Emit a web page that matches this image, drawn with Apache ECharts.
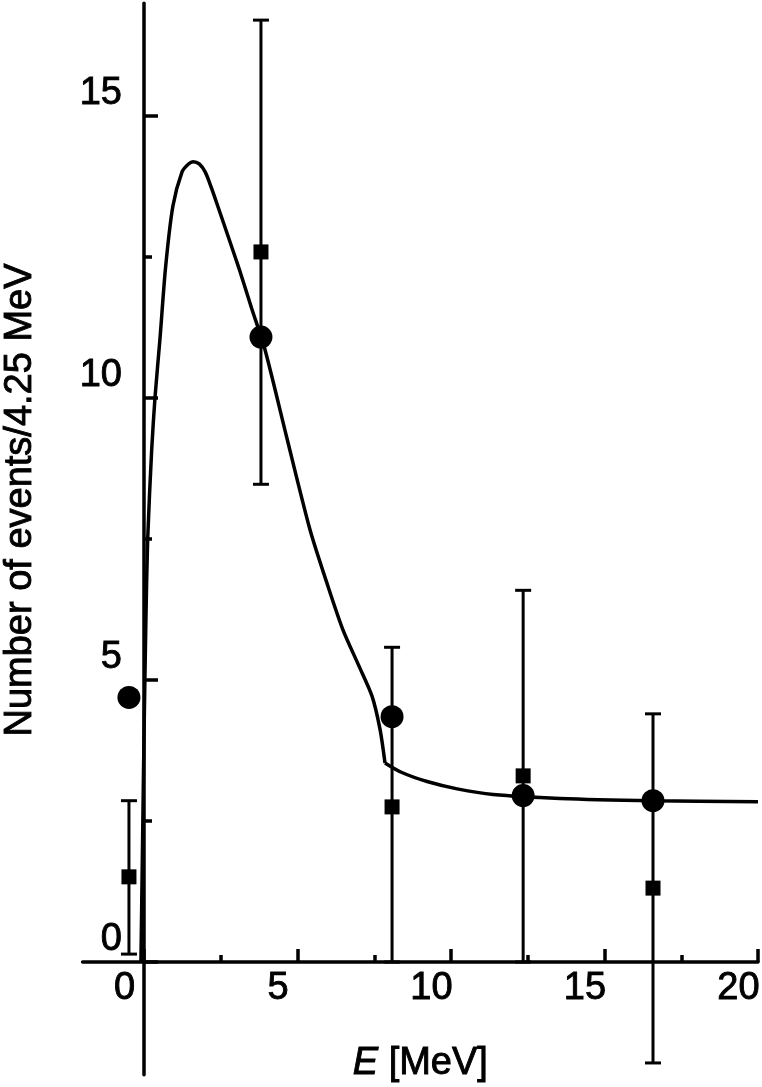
<!DOCTYPE html>
<html>
<head>
<meta charset="utf-8">
<script src="https://cdn.jsdelivr.net/npm/echarts@6/dist/echarts.min.js"></script>
<style>
  html, body { margin: 0; padding: 0; background: #fff; }
  #chart { width: 762px; height: 1087px; }
</style>
</head>
<body>
<div id="chart"></div>
<script>
// bin centres (MeV)
const binX = [-0.49, 3.81, 8.08, 12.35, 16.58];
// filled circles
const circleY = [4.69, 11.08, 4.35, 2.95, 2.86];
// filled squares with their error bars
const squareY = [1.51, 12.59, 2.75, 3.3, 1.31];
const errLow = [0.14, 8.47, 0, 0, -1.79];
const errHigh = [2.86, 16.7, 5.58, 6.59, 4.4];

// fitted curve, rising part up to the kink
const curveX1 = [-0.1, -0.05, 0.0, 0.06, 0.12, 0.25, 0.36, 0.52, 0.7, 0.94, 1.24, 1.45, 1.6, 1.8, 2.0, 2.2, 2.41, 2.75, 3.13, 3.5, 3.94, 4.65, 5.41, 6.0, 6.48, 7.0, 7.43, 7.69, 7.85];
const curveY1 = [0, 2.0, 4.0, 6.0, 7.5, 9.08, 10.02, 11.05, 12.3, 13.4, 14.01, 14.15, 14.19, 14.15, 14.0, 13.72, 13.39, 12.85, 12.24, 11.6, 10.86, 9.3, 7.66, 6.65, 5.89, 5.25, 4.71, 4.12, 3.53];
// tail after the kink
const curveX2 = [7.85, 8.4, 9.22, 10.2, 11.37, 13.55, 16.58, 20];
const curveY2 = [3.53, 3.36, 3.2, 3.07, 2.97, 2.9, 2.86, 2.84];

const xLabels = [0, 5, 10, 15, 20];
const yLabels = [0, 5, 10, 15];

const FONT = 'Liberation Sans, Arial, sans-serif';
// a thin outline makes the glyphs as heavy as in the scanned figure
const HEAVY = { textBorderColor: '#000', textBorderWidth: 0.9 };

const chart = echarts.init(document.getElementById('chart'));

const zip = (xs, ys) => xs.map((x, i) => [x, ys[i]]);

const option = {
  animation: false,
  backgroundColor: '#fff',
  grid: { left: 82.6, right: 4, top: 3.2, bottom: 12.2, containLabel: false, outerBoundsMode: 'none' },
  xAxis: {
    type: 'value',
    min: -2,
    max: 20,
    splitLine: { show: false },
    axisLine: { onZero: true, lineStyle: { color: '#000', width: 3.5 } },
    axisTick: { inside: true, length: 13, customValues: xLabels, lineStyle: { color: '#000', width: 3.5 } },
    minorTick: { show: true, splitNumber: 2, length: 7, lineStyle: { color: '#000', width: 3.5 } },
    axisLabel: {
      customValues: xLabels,
      color: '#000', fontSize: 38, fontFamily: FONT, margin: -105,
      // label sits a little left of its tick, as in the picture
      formatter: v => '{v|' + v + '}{s| }',
      rich: {
        v: Object.assign({ color: '#000', fontSize: 38, fontFamily: FONT }, HEAVY),
        s: { width: 39, fontSize: 38 }
      }
    },
    name: '{it|E} [MeV]',
    nameLocation: 'middle',
    nameGap: -30,
    nameTextStyle: Object.assign({
      color: '#000', fontSize: 38, fontFamily: FONT,
      rich: { it: Object.assign({ fontStyle: 'italic', fontSize: 38, fontFamily: FONT, color: '#000' }, HEAVY) }
    }, HEAVY)
  },
  yAxis: {
    type: 'value',
    min: -2,
    max: 17,
    splitNumber: 4,
    splitLine: { show: false },
    axisLine: { onZero: true, lineStyle: { color: '#000', width: 3.5 } },
    axisTick: { inside: true, length: 14, customValues: yLabels, lineStyle: { color: '#000', width: 3.5 } },
    minorTick: { show: true, splitNumber: 2, length: 8, lineStyle: { color: '#000', width: 3.5 } },
    axisLabel: Object.assign({
      customValues: yLabels,
      color: '#000', fontSize: 38, fontFamily: FONT, margin: -39.4,
      lineHeight: 45,
      // empty second line lifts the number above its tick
      formatter: v => v + '\n'
    }, HEAVY),
    name: 'Number of events/4.25 MeV',
    nameLocation: 'middle',
    nameRotate: 90,
    nameGap: 43,
    nameTextStyle: Object.assign({ color: '#000', fontSize: 38, fontFamily: FONT, padding: [0, 0, 0, 78] }, HEAVY)
  },
  series: [
    {
      type: 'line',
      data: zip(curveX1, curveY1),
      smooth: 0.25,
      symbol: 'none',
      lineStyle: { color: '#000', width: 3.5 },
      z: 3
    },
    {
      type: 'line',
      data: zip(curveX2, curveY2),
      smooth: 0.3,
      symbol: 'none',
      lineStyle: { color: '#000', width: 3.5 },
      z: 3
    },
    {
      type: 'custom',
      data: binX.map((x, i) => [x, errLow[i], errHigh[i]]),
      renderItem: function (params, api) {
        const lo = api.coord([api.value(0), api.value(1)]);
        const hi = api.coord([api.value(0), api.value(2)]);
        const cap = 8;
        const style = { stroke: '#000', lineWidth: 3 };
        return {
          type: 'group',
          children: [
            { type: 'line', shape: { x1: lo[0], y1: lo[1], x2: hi[0], y2: hi[1] }, style: style },
            { type: 'line', shape: { x1: hi[0] - cap, y1: hi[1], x2: hi[0] + cap, y2: hi[1] }, style: style },
            { type: 'line', shape: { x1: lo[0] - cap, y1: lo[1], x2: lo[0] + cap, y2: lo[1] }, style: style }
          ]
        };
      },
      z: 2
    },
    {
      type: 'scatter',
      data: zip(binX, squareY),
      symbol: 'rect',
      symbolSize: 15,
      itemStyle: { color: '#000', opacity: 1 },
      z: 4
    },
    {
      type: 'scatter',
      data: zip(binX, circleY),
      symbol: 'circle',
      symbolSize: 23,
      itemStyle: { color: '#000', opacity: 1 },
      z: 5
    }
  ]
};

chart.setOption(option);
</script>
</body>
</html>
